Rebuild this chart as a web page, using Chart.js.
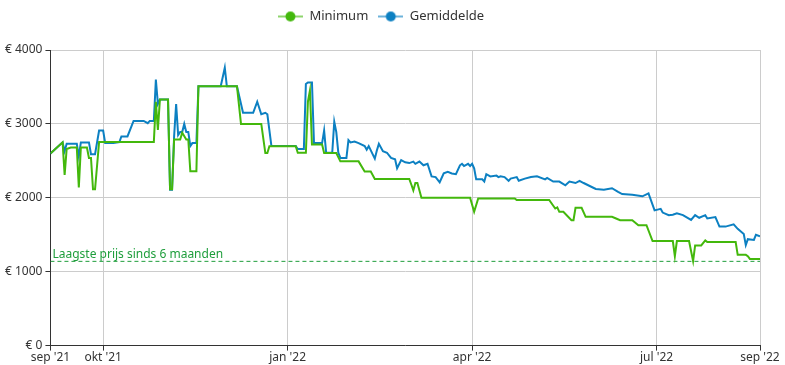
<!doctype html>
<html lang="en">
<head>
  <meta charset="utf-8">
  <title>Prijsverloop</title>
  <style>
    html, body { margin: 0; padding: 0; background: #fff; }
    #wrap { width: 785px; height: 365px; }
  </style>
</head>
<body>
  <div id="wrap">
    <canvas id="myChart"></canvas>
  </div>
  <script src="https://cdn.jsdelivr.net/npm/chart.js"></script>
  <script>
    // days counted from early september 2021
    const minDays = [0, 6, 7, 8, 10, 13, 14, 15, 18, 19, 20, 21, 22, 24, 51, 52, 53, 54, 58, 59, 60, 61, 64, 65, 67, 68, 69, 72, 73, 92, 94, 104, 106, 107, 108, 121, 122, 126, 127, 128, 129, 134, 135, 141, 143, 152, 155, 158, 160, 175, 177, 178, 179, 180, 181, 183, 207, 209, 211, 229, 230, 246, 249, 250, 251, 253, 257, 258, 259, 262, 264, 277, 279, 281, 287, 290, 294, 297, 307, 308, 309, 315, 317, 318, 321, 323, 324, 338, 339, 343, 344, 345, 350];
    const minPrices = [2600, 2750, 2310, 2660, 2680, 2680, 2140, 2680, 2680, 2540, 2540, 2115, 2115, 2756, 2756, 3300, 2920, 3330, 3330, 2115, 2115, 2790, 2790, 2880, 2790, 2790, 2360, 2360, 3510, 3510, 3000, 3000, 2606, 2606, 2697, 2697, 2610, 2610, 3300, 3450, 2720, 2720, 2606, 2606, 2493, 2493, 2356, 2356, 2256, 2256, 2256, 2180, 2100, 2200, 2200, 2000, 2000, 1810, 1992, 1992, 1970, 1970, 1855, 1870, 1810, 1810, 1697, 1697, 1865, 1865, 1742, 1742, 1720, 1697, 1697, 1629, 1629, 1415, 1415, 1210, 1415, 1415, 1142, 1356, 1356, 1424, 1401, 1401, 1228, 1228, 1210, 1173, 1173];

    const avgDays = [0, 6, 7, 8, 13, 14, 15, 19, 20, 22, 24, 26, 27, 31, 34, 35, 38, 40, 41, 46, 48, 49, 51, 52, 53, 54, 58, 59, 60, 61, 62, 63, 64, 65, 66, 67, 68, 69, 70, 72, 73, 84, 86, 87, 92, 95, 100, 102, 104, 106, 107, 109, 121, 122, 125, 126, 127, 129, 130, 134, 135, 136, 139, 140, 141, 142, 143, 146, 147, 148, 150, 152, 155, 156, 157, 160, 161, 162, 164, 166, 168, 170, 171, 173, 175, 177, 179, 180, 182, 184, 186, 188, 190, 192, 194, 196, 198, 200, 202, 203, 204, 206, 207, 208, 209, 210, 213, 214, 215, 217, 220, 221, 222, 224, 226, 227, 230, 231, 234, 237, 240, 244, 245, 248, 251, 254, 256, 259, 261, 263, 266, 269, 273, 277, 280, 282, 287, 292, 295, 298, 301, 302, 305, 307, 309, 312, 316, 318, 320, 323, 324, 328, 330, 333, 337, 339, 342, 343, 344, 347, 348, 350];
    const avgPrices = [2600, 2750, 2630, 2730, 2730, 2560, 2750, 2750, 2590, 2590, 2910, 2910, 2740, 2740, 2755, 2830, 2830, 2970, 3040, 3040, 3010, 3040, 3040, 3600, 3270, 3330, 3330, 2110, 2110, 2830, 3270, 2850, 2890, 2890, 3000, 2890, 2890, 2700, 2740, 2740, 3510, 3510, 3760, 3510, 3510, 3150, 3150, 3300, 3130, 3150, 3130, 2700, 2700, 2660, 2660, 3540, 3560, 3560, 2740, 2740, 2910, 2610, 2610, 3030, 2890, 2610, 2540, 2540, 2780, 2750, 2760, 2740, 2700, 2650, 2700, 2530, 2640, 2730, 2630, 2610, 2540, 2520, 2400, 2510, 2480, 2470, 2490, 2460, 2490, 2440, 2460, 2290, 2280, 2210, 2330, 2350, 2330, 2320, 2440, 2460, 2430, 2460, 2430, 2460, 2400, 2250, 2250, 2220, 2320, 2290, 2300, 2280, 2290, 2280, 2230, 2260, 2280, 2230, 2260, 2280, 2290, 2250, 2270, 2220, 2220, 2170, 2220, 2200, 2230, 2200, 2160, 2120, 2110, 2130, 2080, 2050, 2040, 2020, 2060, 1830, 1850, 1800, 1765, 1770, 1790, 1765, 1700, 1765, 1730, 1765, 1720, 1740, 1610, 1610, 1640, 1580, 1510, 1360, 1440, 1430, 1500, 1480];

    const lowestPrice = 1140;
    const lowestLabel = 'Laagste prijs sinds 6 maanden';

    const monthTicks = [0, 26, 117, 208, 299, 350];
    const monthLabels = ["sep '21", "okt '21", "jan '22", "apr '22", "jul '22", "sep '22"];
    const priceTicks = [0, 1000, 2000, 3000, 4000];

    const GREEN = '#43b80c';
    const BLUE = '#0c80c2';
    const DASH = '#1f9e3c';
    const FONT = '"Noto Sans", sans-serif';

    function legendIcon(color) {
      const c = document.createElement('canvas');
      c.width = 25; c.height = 12;
      const g = c.getContext('2d');
      g.globalAlpha = 0.6;
      g.strokeStyle = color;
      g.lineWidth = 2;
      g.beginPath(); g.moveTo(0, 6); g.lineTo(25, 6); g.stroke();
      g.globalAlpha = 1;
      g.fillStyle = color;
      g.beginPath(); g.arc(12.5, 6, 5, 0, Math.PI * 2); g.fill();
      return c;
    }

    const toPoints = (xs, ys) => xs.map((x, i) => ({x: x, y: ys[i]}));

    const lowestLabelPlugin = {
      id: 'lowestLabel',
      afterDatasetsDraw(chart) {
        const {ctx, scales} = chart;
        ctx.save();
        ctx.font = '12px ' + FONT;
        ctx.fillStyle = DASH;
        ctx.textBaseline = 'alphabetic';
        ctx.fillText(lowestLabel, scales.x.getPixelForValue(0) + 2, scales.y.getPixelForValue(lowestPrice) - 3);
        ctx.restore();
      }
    };

    // extra room under the legend
    const legendGap = {
      id: 'legendGap',
      beforeInit(chart) {
        const fit = chart.legend.fit;
        chart.legend.fit = function () {
          fit.bind(chart.legend)();
          this.height += 17;
        };
      }
    };

    const config = {
      type: 'line',
      data: {
        datasets: [
          {
            label: 'Minimum',
            data: toPoints(minDays, minPrices),
            borderColor: GREEN,
            backgroundColor: GREEN,
            borderWidth: 2,
            pointRadius: 0,
            pointStyle: legendIcon(GREEN),
            tension: 0
          },
          {
            label: 'Gemiddelde',
            data: toPoints(avgDays, avgPrices),
            borderColor: BLUE,
            backgroundColor: BLUE,
            borderWidth: 2,
            pointRadius: 0,
            pointStyle: legendIcon(BLUE),
            tension: 0
          },
          {
            label: 'lowest',
            data: [{x: monthTicks[0], y: lowestPrice}, {x: monthTicks[monthTicks.length - 1], y: lowestPrice}],
            borderColor: DASH,
            borderWidth: 1,
            borderDash: [4, 3],
            pointRadius: 0
          }
        ]
      },
      options: {
        responsive: true,
        maintainAspectRatio: false,
        animation: false,
        layout: { padding: { top: 0, right: 25, left: 2 } },
        plugins: {
          legend: {
            position: 'top',
            labels: {
              usePointStyle: true,
              pointStyleWidth: 25,
              color: '#333',
              font: { family: FONT, size: 13 },
              padding: 10,
              filter: item => item.datasetIndex < 2
            }
          },
          tooltip: { enabled: false }
        },
        scales: {
          x: {
            type: 'linear',
            min: monthTicks[0],
            max: monthTicks[monthTicks.length - 1],
            afterBuildTicks: scale => { scale.ticks = monthTicks.map(v => ({value: v})); },
            ticks: {
              autoSkip: false,
              maxRotation: 0,
              color: '#333',
              font: { family: FONT, size: 12 },
              padding: 0,
              callback: v => monthLabels[monthTicks.indexOf(v)]
            },
            grid: { color: '#cccccc', tickColor: '#333', tickLength: 5 },
            border: { color: '#333', width: 1 }
          },
          y: {
            min: 0,
            max: 4000,
            afterBuildTicks: scale => { scale.ticks = priceTicks.map(v => ({value: v})); },
            ticks: {
              color: '#333',
              font: { family: FONT, size: 12 },
              padding: 3,
              callback: v => '€ ' + v
            },
            grid: { color: '#cccccc', tickColor: '#333', tickLength: 5 },
            border: { color: '#333', width: 1 }
          }
        }
      },
      plugins: [lowestLabelPlugin, legendGap]
    };

    new Chart(document.getElementById('myChart'), config);
  </script>
</body>
</html>
